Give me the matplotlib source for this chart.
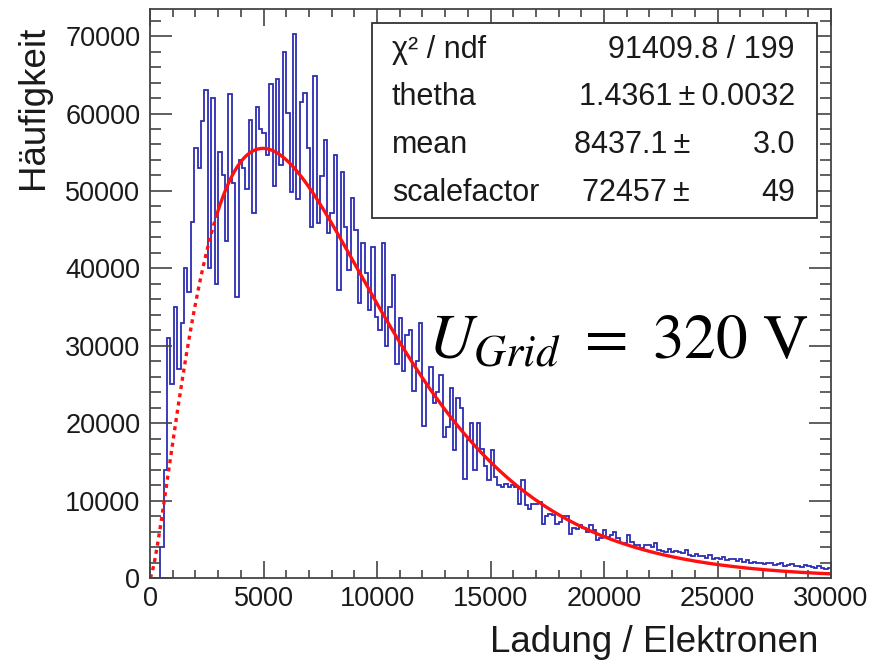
import numpy as np
import matplotlib
matplotlib.use('Agg')
import matplotlib.pyplot as plt
from math import gamma

plt.rcParams['font.family'] = 'Liberation Sans'
plt.rcParams['mathtext.fontset'] = 'stix'

# charge spectrum, counts per bin (in thousands), bins of 150 electrons from 0 to 30000
bin_width = 150
counts_k = [
    0, 0, 0, 4, 14, 31, 25, 35, 27, 33,
    40, 37, 46, 55.5, 53, 59, 63, 40, 62, 38,
    55, 52, 43.5, 62.5, 51, 36.3, 54, 53, 50.2, 59.2,
    47.2, 60.8, 58, 57.5, 54.7, 63.8, 50.6, 64.4, 53.4, 67.9,
    60.1, 49.8, 70.3, 48.9, 61.5, 62.7, 55.6, 45.4, 64.9, 45.9,
    51.9, 56.6, 44.6, 47.2, 54.7, 37.2, 52.4, 45.4, 39.8, 49.1,
    45, 35.5, 43.3, 39.4, 34.6, 42.8, 33.7, 32, 43.3, 30,
    35, 39.1, 27.7, 33.6, 26.8, 31.4, 32, 24.2, 28, 32.9,
    19.6, 25, 27.2, 22.6, 24, 26.2, 18.2, 19.5, 24.5, 16.5,
    23.2, 21.9, 12.8, 17.8, 20, 13.9, 20, 16.7, 14.5, 12.6,
    16.5, 13, 12, 11.8, 12.1, 11.7, 12, 11.8, 9.6, 12.6,
    9.4, 8.9, 9.6, 9.5, 9.8, 7, 8, 8.3, 8.2, 7,
    7.2, 8, 8, 5.7, 6.5, 6.3, 6.8, 6.5, 5.9, 6.9,
    6.2, 4.9, 5.2, 6.2, 5.3, 5.5, 5.9, 5.2, 4.5, 4.5,
    5.5, 4.6, 4.2, 4.2, 3.9, 4.3, 4.2, 4.0, 4.5, 3.6,
    3.5, 3.4, 3.7, 3.3, 3.5, 3.4, 3.2, 3.6, 3.0, 2.9,
    3.1, 2.8, 2.9, 2.6, 3.0, 2.5, 2.6, 2.4, 2.7, 2.3,
    2.4, 2.5, 2.2, 2.4, 2.1, 2.3, 2.0, 2.1, 1.9, 2.0,
    1.8, 1.9, 2.0, 1.7, 1.8, 1.9, 1.6, 1.7, 1.8, 1.5,
    1.6, 1.4, 1.7, 1.5, 1.4, 1.3, 1.5, 1.3, 1.2, 1.3,
]
counts = np.array(counts_k) * 1000
edges = np.arange(len(counts) + 1) * bin_width

# Polya fit result
theta = 1.4361
theta_err = 0.0032
mean = 8437.1
mean_err = 3.0
scalefactor = 72457
scale_err = 49
chi2 = 91409.8
ndf = 199
fit_start = 2950


def polya(x):
    t1 = theta + 1
    return scalefactor * t1**t1 / gamma(t1) * (x / mean)**theta * np.exp(-t1 * x / mean)


fig = plt.figure(figsize=(8.89, 6.64), dpi=100)
ax = fig.add_axes([150 / 889, 86 / 664, 681 / 889, 569 / 664])

ax.stairs(counts, edges, color='#2d2db4', lw=1.3, baseline=None)

x_lo = np.linspace(0, fit_start, 200)
x_hi = np.linspace(fit_start, 30000, 800)
ax.plot(x_lo, polya(x_lo), color='#ff1010', lw=2.4, ls=(0, (1.2, 1.3)))
ax.plot(x_hi, polya(x_hi), color='#ff1010', lw=2.4)

ax.set_xlim(0, 30000)
ax.set_ylim(0, 73500)
xt = np.arange(0, 30001, 5000)
yt = np.arange(0, 70001, 10000)
ax.set_xticks(xt)
ax.set_xticklabels([str(v) for v in xt])
ax.set_yticks(yt)
ax.set_yticklabels([str(v) for v in yt])
ax.set_xticks(np.arange(0, 30001, 1000), minor=True)
ax.set_yticks(np.arange(0, 73500, 2000), minor=True)

ax.tick_params(axis='both', which='both', direction='in', top=True, right=True,
               color='#444444', width=1.2, labelsize=19.5, labelcolor='#1a1a1a')
ax.tick_params(axis='x', which='major', length=12, pad=6)
ax.tick_params(axis='x', which='minor', length=6)
ax.tick_params(axis='y', which='major', length=16, pad=7)
ax.tick_params(axis='y', which='minor', length=8)
for s in ax.spines.values():
    s.set_color('#444444')
    s.set_linewidth(1.3)

fig.text(818 / 889, 1 - 643 / 664, 'Ladung / Elektronen', ha='right', va='center',
         fontsize=26.5, color='#1a1a1a')
fig.text(33 / 889, 1 - 26 / 664, 'Häufigkeit', ha='center', va='top', rotation=90,
         fontsize=26.5, color='#1a1a1a')

# fit statistics box
bx0, bx1 = (372 - 150) / 681, (817 - 150) / 681
by0, by1 = (578 - 218) / 569, (578 - 23) / 569
ax.add_patch(plt.Rectangle((bx0, by0), bx1 - bx0, by1 - by0, transform=ax.transAxes,
                           facecolor='white', edgecolor='#333333', lw=1.3, zorder=5))


def px(x, y):
    return (x - 150) / 681, (578 - y) / 569


rows_y = [50, 97, 145, 193]
names = ['χ² / ndf', 'thetha', 'mean', 'scalefactor']
for name, ry in zip(names, rows_y):
    ax.text(*px(392, ry), name, transform=ax.transAxes, ha='left', va='center',
            fontsize=22, color='#1a1a1a', zorder=6)

ax.text(*px(795, rows_y[0]), f'{chi2:.1f} / {ndf}', transform=ax.transAxes,
        ha='right', va='center', fontsize=22, color='#1a1a1a', zorder=6)
ax.text(*px(795, rows_y[1]), f'{theta:.4f}\u2009±\u2009{theta_err:.4f}', transform=ax.transAxes,
        ha='right', va='center', fontsize=22, color='#1a1a1a', zorder=6)
ax.text(*px(690, rows_y[2]), f'{mean:.1f}\u2009±', transform=ax.transAxes,
        ha='right', va='center', fontsize=22, color='#1a1a1a', zorder=6)
ax.text(*px(795, rows_y[2]), f'{mean_err:.1f}', transform=ax.transAxes,
        ha='right', va='center', fontsize=22, color='#1a1a1a', zorder=6)
ax.text(*px(690, rows_y[3]), f'{scalefactor}\u2009±', transform=ax.transAxes,
        ha='right', va='center', fontsize=22, color='#1a1a1a', zorder=6)
ax.text(*px(795, rows_y[3]), f'{scale_err}', transform=ax.transAxes,
        ha='right', va='center', fontsize=22, color='#1a1a1a', zorder=6)

ax.text(*px(428, 342), r'$U_{Grid}\ =\ 320\ \mathrm{V}$', transform=ax.transAxes,
        ha='left', va='center', fontsize=45.5, color='black', zorder=6)

fig.savefig('out.png', dpi=100)
